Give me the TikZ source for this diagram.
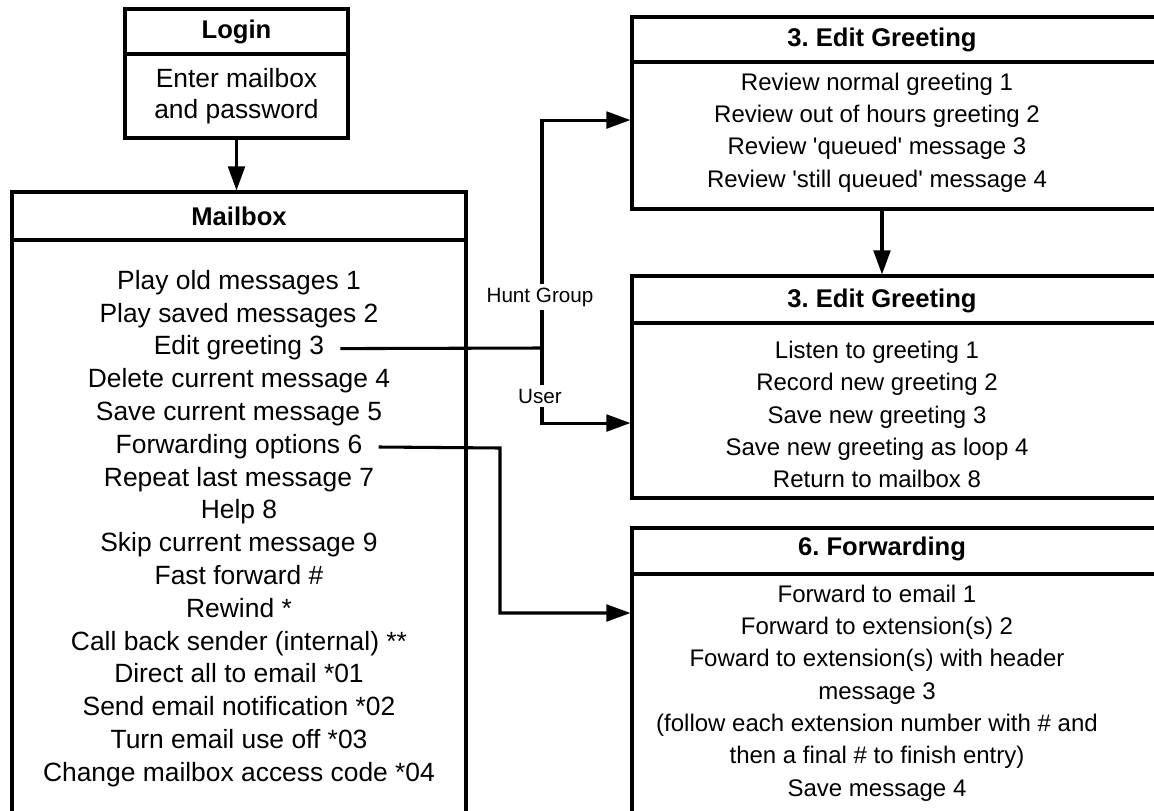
\documentclass[tikz,border=0pt]{standalone}
\usepackage{fontspec}
\setmainfont{Liberation Sans}
\usetikzlibrary{arrows.meta}

\begin{document}
\frenchspacing
\begin{tikzpicture}[x=0.75pt,y=-0.75pt]
        \tikzstyle{box}=[draw,line width=2.3pt,inner sep=0pt];
        \tikzstyle{head}=[font=\fontsize{19.2}{24}\selectfont\bfseries];
        \tikzstyle{item}=[font=\fontsize{19.8}{24.4}\selectfont,align=center,inner sep=2pt];
        \tikzstyle{opt}=[item,font=\fontsize{18}{24.2}\selectfont];
        \tikzstyle{line}=[item,text height=14pt,text depth=4.5pt];
        \tikzstyle{lab}=[font=\fontsize{15.5}{18}\selectfont,fill=white,inner sep=3pt];
        \tikzstyle{wire}=[line width=2.3pt];
        \tikzstyle{arr}=[wire,-{Triangle[length=18pt,width=12.5pt]}];
        \useasboundingbox (0,0) rectangle (1154,811);
        \clip (0,0) rectangle (1154,811);
        % login and mailbox
        \node[box,head,minimum width=167.25pt,minimum height=33.75pt] (logint) at (236.5,31.5) {Login};
        \node[box,item,minimum width=167.25pt,minimum height=63pt,font=\fontsize{19.8}{23}\selectfont] (loginb) at (236.5,96) {Enter mailbox\\and password};
        \node[box,head,minimum width=340.5pt,minimum height=36pt] (mboxt) at (239,216) {Mailbox};
        \node[box,minimum width=340.5pt,minimum height=450pt] (mboxb) at (239,540) {};
        \foreach \t [count=\i] in {Play old messages 1,Play saved messages 2,Edit greeting 3,
            Delete current message 4,Save current message 5,Forwarding options 6,
            Repeat last message 7,Help 8,Skip current message 9,Fast forward \#,Rewind *,
            Call back sender (internal) **,Direct all to email *01,Send email notification *02,
            Turn email use off *03,Change mailbox access code *04}
            \node[line] (m\i) at (239,{283+(\i-1)*32.8}) {\t};
        % greeting and forwarding boxes
        \node[box,minimum width=411pt,minimum height=33.75pt] (grAt) at (906,39.5) {};
        \node[box,minimum width=411pt,minimum height=110.25pt] (grAb) at (906,135.5) {};
        \node[box,minimum width=411pt,minimum height=35.25pt] (grBt) at (906,299.5) {};
        \node[box,minimum width=411pt,minimum height=131.25pt] (grBb) at (906,410.5) {};
        \node[box,minimum width=411pt,minimum height=34.5pt] (fwdt) at (906,551) {};
        \node[box,minimum width=411pt,minimum height=214.5pt] (fwdb) at (906,717) {};
        \node[head] (heA) at (882,40) {3. Edit Greeting};
        \node[head] (heB) at (882,301) {3. Edit Greeting};
        \node[head] (heC) at (882,549) {6. Forwarding};
        \node[opt] (txA) at (877,132.5) {Review normal greeting 1\\Review out of hours greeting 2\\
            Review \textquotesingle queued\textquotesingle{} message 3\\
            Review \textquotesingle still queued\textquotesingle{} message 4};
        \node[opt] (txB) at (877,414.5) {Listen to greeting 1\\Record new greeting 2\\Save new greeting 3\\
            Save new greeting as loop 4\\Return to mailbox 8};
        \node[opt] (txC) at (877,693) {Forward to email 1\\Forward to extension(s) 2\\
            Foward to extension(s) with header\\message 3\\(follow each extension number with \# and\\
            then a final \# to finish entry)\\Save message 4};
        % connectors
        \coordinate (hub) at (542,348);
        \coordinate (fork) at (500,448);
        \draw[arr] (loginb.south) -- (loginb.south |- mboxt.north);
        \draw[arr] (heA |- grAb.south) -- (heA |- grBt.north);
        \draw[wire] ([xshift=10pt]m3.east) -- (hub);
        \draw[arr] (hub) |- ([yshift=11.6pt]grAb.west);
        \draw[arr] (hub) |- ([yshift=-9.4pt]grBb.west);
        \draw[arr] ([xshift=10pt]m6.east) -- (fork) |- ([yshift=78pt]fwdb.west);
        \node[lab] (hunt) at (540,297) {Hunt Group};
        \node[lab] (user) at (540,396) {User};
\end{tikzpicture}
\end{document}
